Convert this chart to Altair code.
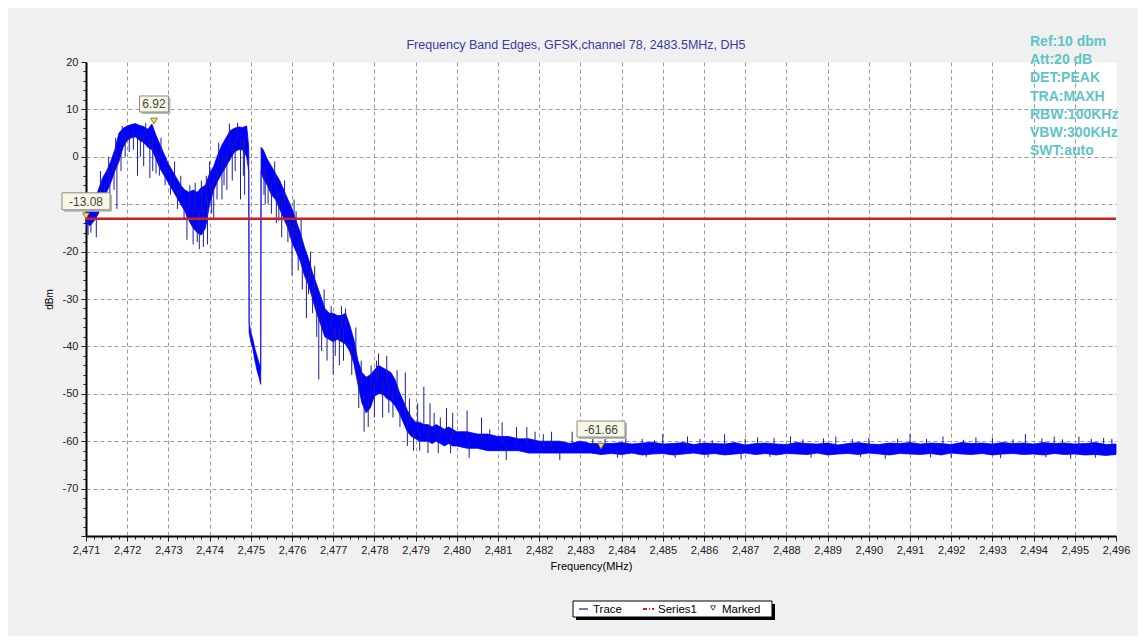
import altair as alt
import pandas as pd
import numpy as np

TITLE = "Frequency Band Edges, GFSK,channel 78, 2483.5MHz, DH5"
INFO = ["Ref:10 dbm", "Att:20 dB", "DET:PEAK", "TRA:MAXH", "RBW:100KHz", "VBW:300KHz", "SWT:auto"]
X_TITLE = "Frequency(MHz)"
Y_TITLE = "dBm"
LEGEND = ["Trace", "Series1", "Marked"]

# trace envelope (upper / lower edge of the noisy trace)
FREQ = [2471.0, 2471.1, 2471.2, 2471.3, 2471.4, 2471.5, 2471.6, 2471.7, 2471.8, 2471.9,
        2472.0, 2472.1, 2472.2, 2472.3, 2472.4, 2472.5, 2472.6, 2472.7, 2472.8, 2472.9,
        2473.0, 2473.1, 2473.2, 2473.3, 2473.4, 2473.5, 2473.6, 2473.7, 2473.8, 2473.9,
        2474.0, 2474.1, 2474.2, 2474.3, 2474.4, 2474.5, 2474.6, 2474.7, 2474.8, 2474.9,
        2474.95, 2474.96, 2475.0, 2475.05, 2475.1, 2475.15, 2475.2, 2475.24, 2475.25, 2475.3,
        2475.4, 2475.5, 2475.6, 2475.7, 2475.8, 2475.9, 2476.0, 2476.1, 2476.2, 2476.3,
        2476.4, 2476.5, 2476.6, 2476.7, 2476.8, 2476.9, 2477.0, 2477.1, 2477.2, 2477.3,
        2477.4, 2477.5, 2477.6, 2477.7, 2477.8, 2477.9, 2478.0, 2478.1, 2478.2, 2478.3,
        2478.4, 2478.5, 2478.6, 2478.7, 2478.8, 2478.9, 2479.0, 2479.1, 2479.2, 2479.3,
        2479.4, 2479.5, 2479.6, 2479.7, 2479.8, 2479.9, 2480.0, 2480.25, 2480.5, 2480.75,
        2481.0, 2481.25, 2481.5, 2481.75, 2482.0, 2482.25, 2482.5, 2482.75, 2483.0, 2483.25,
        2483.5, 2483.75, 2484.0, 2484.25, 2484.5, 2484.75, 2485.0, 2485.25, 2485.5, 2485.75,
        2486.0, 2486.25, 2486.5, 2486.75, 2487.0, 2487.25, 2487.5, 2487.75, 2488.0, 2488.25,
        2488.5, 2488.75, 2489.0, 2489.25, 2489.5, 2489.75, 2490.0, 2490.25, 2490.5, 2490.75,
        2491.0, 2491.25, 2491.5, 2491.75, 2492.0, 2492.25, 2492.5, 2492.75, 2493.0, 2493.25,
        2493.5, 2493.75, 2494.0, 2494.25, 2494.5, 2494.75, 2495.0, 2495.25, 2495.5, 2495.75,
        2496.0]
HI = [-10.0, -10.5, -9.5, -7.0, -4.5, -3.0, -1.0, 1.5, 5.0, 6.0,
      6.5, 6.8, 7.0, 6.6, 6.4, 5.8, 6.9, 4.5, 2.5, 0.5,
      -1.5, -3.0, -4.5, -6.0, -7.0, -7.5, -7.0, -7.5, -6.5, -6.0,
      -3.5, -2.0, 0.5, 2.5, 4.0, 5.5, 6.0, 6.3, 6.2, 6.5,
      2.0, -35.0, -37.0, -38.5, -40.5, -42.0, -43.5, -45.0, 2.0, 1.5,
      -0.5, -2.0, -3.5, -5.0, -7.0, -9.0, -11.0, -13.5, -16.0, -19.0,
      -21.5, -24.5, -27.0, -29.5, -32.0, -33.0, -33.0, -33.5, -33.5, -33.0,
      -35.5, -38.5, -43.0, -45.5, -46.5, -46.0, -45.0, -44.0, -44.5, -45.0,
      -45.5, -47.0, -49.5, -51.5, -53.5, -55.0, -56.0, -56.0, -56.5, -56.5,
      -57.0, -56.5, -57.0, -57.5, -57.0, -57.5, -58.0, -58.0, -58.5, -58.5,
      -59.0, -59.0, -59.5, -59.5, -60.0, -60.0, -60.0, -60.5, -60.0, -60.5,
      -60.5, -60.5, -60.3, -60.6, -60.4, -60.2, -60.6, -60.5, -60.3, -60.7,
      -60.4, -60.5, -60.6, -60.3, -60.8, -60.5, -60.4, -60.6, -60.7, -60.3,
      -60.5, -60.6, -60.4, -60.8, -60.5, -60.3, -60.6, -60.7, -60.4, -60.5,
      -60.3, -60.6, -60.4, -60.5, -60.7, -60.3, -60.5, -60.4, -60.6, -60.3,
      -60.5, -60.4, -60.6, -60.3, -60.5, -60.4, -60.6, -60.5, -60.3, -60.7,
      -60.6]
LO = [-14.0, -14.5, -13.5, -12.0, -9.0, -7.5, -5.5, -3.0, -1.0, 2.0,
      3.5, 4.0, 4.2, 3.5, 3.0, 2.0, 1.5, -0.5, -2.5, -4.0,
      -5.5, -7.0, -8.5, -10.0, -11.5, -13.5, -15.0, -16.0, -16.5, -15.0,
      -10.0, -7.0, -5.0, -3.5, -2.0, -0.5, 1.0, 1.5, 1.5, 0.0,
      -3.0, -37.0, -39.0, -40.5, -43.0, -45.0, -46.5, -48.0, -3.0, -4.5,
      -6.0, -8.0, -9.0, -11.0, -13.0, -15.0, -18.0, -20.0, -22.0, -25.0,
      -27.0, -30.0, -33.0, -35.5, -38.0, -38.5, -39.0, -38.5, -39.0, -39.5,
      -41.0, -43.5, -48.0, -52.0, -54.0, -53.0, -50.5, -50.0, -50.0, -51.0,
      -51.5, -52.5, -54.0, -56.0, -58.0, -59.0, -59.5, -60.0, -60.0, -60.0,
      -60.5, -60.0, -60.5, -61.0, -60.5, -61.0, -61.0, -61.5, -61.5, -62.0,
      -62.0, -62.0, -62.0, -62.5, -62.5, -62.5, -62.5, -62.5, -62.5, -62.5,
      -62.8, -62.6, -62.8, -62.5, -62.9, -62.7, -62.6, -62.9, -62.7, -62.5,
      -62.8, -62.6, -62.9, -62.7, -62.5, -62.8, -62.6, -62.9, -62.6, -62.7,
      -62.8, -62.5, -62.9, -62.7, -62.6, -62.8, -62.5, -62.7, -62.9, -62.6,
      -62.7, -62.8, -62.6, -62.9, -62.5, -62.7, -62.8, -62.6, -62.9, -62.7,
      -62.6, -62.8, -62.7, -62.9, -62.6, -62.8, -62.7, -62.9, -62.8, -63.0,
      -62.8]

# isolated spikes of the trace (frequency, tip value)
SPIKE_F = [2471.02, 2471.05, 2471.12, 2471.18, 2471.25, 2471.35, 2471.45, 2471.55, 2471.58, 2471.65,
           2471.68, 2471.72, 2471.75, 2471.85, 2471.88, 2471.95, 2472.05, 2472.15, 2472.25, 2472.32,
           2472.4, 2472.45, 2472.55, 2472.62, 2472.7, 2472.78, 2472.82, 2472.92, 2473.05, 2473.15,
           2473.22, 2473.3, 2473.38, 2473.45, 2473.52, 2473.6, 2473.65, 2473.7, 2473.75, 2473.8,
           2473.85, 2473.92, 2473.95, 2474.0, 2474.05, 2474.1, 2474.18, 2474.22, 2474.3, 2474.35,
           2474.42, 2474.48, 2474.55, 2474.62, 2474.68, 2474.75, 2474.82, 2474.85, 2475.32, 2475.35,
           2475.42, 2475.5, 2475.58, 2475.62, 2475.68, 2475.75, 2475.82, 2475.9, 2475.95, 2476.0,
           2476.05, 2476.1, 2476.15, 2476.22, 2476.25, 2476.35, 2476.4, 2476.45, 2476.5, 2476.55,
           2476.6, 2476.65, 2476.72, 2476.78, 2476.85, 2476.95, 2477.0, 2477.05, 2477.15, 2477.2,
           2477.25, 2477.3, 2477.45, 2477.55, 2477.62, 2477.68, 2477.75, 2477.85, 2477.92, 2478.0,
           2478.05, 2478.1, 2478.2, 2478.3, 2478.35, 2478.45, 2478.55, 2478.62, 2478.75, 2478.8,
           2478.85, 2478.95, 2479.05, 2479.1, 2479.2, 2479.3, 2479.35, 2479.45, 2479.55, 2479.6,
           2479.75, 2479.85, 2479.9, 2480.25, 2480.3, 2480.6, 2480.8, 2481.1, 2481.2, 2481.45,
           2481.7, 2481.9, 2482.1, 2482.3, 2482.5, 2482.8, 2483.3, 2483.6, 2483.9, 2484.1,
           2484.5, 2484.6, 2484.8, 2485.0, 2485.3, 2485.6, 2485.9, 2486.1, 2486.2, 2486.5,
           2486.9, 2487.0, 2487.3, 2487.6, 2487.7, 2488.1, 2488.4, 2488.6, 2488.9, 2489.2,
           2489.6, 2489.8, 2490.0, 2490.4, 2490.7, 2491.0, 2491.4, 2491.5, 2491.8, 2492.0,
           2492.3, 2492.6, 2493.0, 2493.2, 2493.5, 2493.8, 2494.2, 2494.3, 2494.5, 2494.7,
           2494.9, 2495.1, 2495.4, 2495.5, 2495.7, 2495.9]
SPIKE_V = [-15.0, -16.5, -16.0, -8.0, -17.0, -3.0, -10.0, 0.0, -8.0, -1.0,
           -7.0, 4.0, -11.0, -3.0, 6.5, 0.0, 1.0, 1.5, -4.0, 0.0,
           -2.0, 7.2, -4.5, -3.0, -3.5, -4.0, 4.0, -6.0, -8.0, -1.0,
           -11.0, -4.0, -13.0, -17.5, -6.0, -18.5, -5.5, -18.0, -19.5, -5.0,
           -19.0, -4.0, -18.5, -1.0, -12.0, -13.0, -9.0, 3.0, -9.0, -6.0,
           -7.0, 7.0, -5.0, -3.0, 7.2, -9.0, -4.0, -8.0, -8.0, -10.0,
           -10.0, -12.0, -1.0, -14.0, -13.5, -17.0, -5.0, -18.0, -17.0, -25.0,
           -9.0, -11.5, -24.0, -13.0, -28.0, -34.0, -29.0, -20.0, -33.0, -23.0,
           -38.0, -47.0, -41.0, -28.0, -43.0, -31.5, -46.0, -42.0, -44.0, -31.5,
           -43.0, -32.0, -46.0, -36.0, -53.0, -43.0, -58.0, -57.0, -44.0, -55.0,
           -43.0, -41.5, -55.0, -42.0, -54.0, -55.0, -45.0, -57.0, -45.5, -61.0,
           -51.0, -62.0, -52.0, -62.0, -48.5, -62.5, -52.0, -54.0, -62.5, -55.0,
           -53.0, -62.5, -54.0, -53.5, -63.5, -55.0, -57.5, -56.0, -64.0, -57.0,
           -57.0, -58.0, -58.5, -58.0, -64.0, -58.0, -58.5, -59.5, -63.5, -59.0,
           -59.5, -63.3, -59.8, -58.5, -63.5, -59.0, -59.5, -63.4, -59.8, -58.5,
           -63.8, -59.5, -59.2, -63.3, -59.3, -59.0, -59.6, -63.5, -59.4, -59.0,
           -59.5, -63.3, -59.3, -63.7, -59.5, -58.5, -59.5, -63.4, -59.0, -63.5,
           -59.7, -59.2, -59.3, -63.6, -59.6, -58.5, -59.4, -63.4, -59.0, -59.6,
           -63.7, -59.0, -59.5, -63.5, -59.3, -59.5]

LIMIT = [-13.08]
MARK_F = [2471.0, 2472.65, 2483.5]
MARK_V = [-13.08, 6.92, -61.66]
MARK_LABEL = ["-13.08", "6.92", "-61.66"]

X_MIN, X_MAX = 2471, 2496
Y_MIN, Y_MAX = -80, 20
X_TICKS = [round(X_MIN + 0.2 * k, 1) for k in range(126)]
Y_TICKS = list(range(Y_MIN, Y_MAX + 1, 2))
Y_HIDDEN_LABEL = -10   # covered by the -13.08 marker box in the reference

FONT = "Liberation Sans"

trace = pd.DataFrame({"f": FREQ, "hi": HI, "lo": LO})
mid = (np.array(HI) + np.array(LO)) / 2
spikes = pd.DataFrame({"f": SPIKE_F, "tip": SPIKE_V,
                       "base": np.interp(SPIKE_F, FREQ, mid)})
marks = pd.DataFrame({"f": MARK_F, "v": MARK_V, "label": MARK_LABEL})

x_major = "abs(datum.value - round(datum.value)) < 0.01"
x_axis = alt.Axis(
    values=X_TICKS, title=X_TITLE, labelOverlap=False, labelFlush=False,
    labelExpr=f"{x_major} ? format(datum.value, ',d') : ''",
    tickSize={"condition": {"test": x_major, "value": 5}, "value": 3},
    gridOpacity={"condition": {"test": f"{x_major} && datum.value > {X_MIN} && datum.value < {X_MAX}", "value": 1}, "value": 0},
    labelPadding=3, titlePadding=5, titleX=505,
)
y_major = "datum.value % 10 == 0"
y_axis = alt.Axis(
    values=Y_TICKS, title=Y_TITLE, labelOverlap=False, labelFlush=False,
    labelExpr=f"({y_major} && datum.value > {Y_MIN} && datum.value != {Y_HIDDEN_LABEL}) ? '' + datum.value : ''",
    tickSize={"condition": {"test": y_major, "value": 5}, "value": 3},
    gridOpacity={"condition": {"test": f"{y_major} && datum.value > {Y_MIN} && datum.value < {Y_MAX}", "value": 1}, "value": 0},
    labelPadding=3, titlePadding=8, titleFontSize=10,
)
xs = alt.Scale(domain=[X_MIN, X_MAX], nice=False, zero=False)
ys = alt.Scale(domain=[Y_MIN, Y_MAX], nice=False, zero=False)


def X(field="f"):
    return alt.X(f"{field}:Q", scale=xs, axis=x_axis)


def Y(field):
    return alt.Y(f"{field}:Q", scale=ys, axis=y_axis)


band = alt.Chart(trace).mark_area(color="#0000ff", stroke="#0000ee", strokeWidth=0.8,
                                  interpolate="linear").encode(
    x=X(), y=Y("lo"), y2="hi")
spike_rules = alt.Chart(spikes).mark_rule(color="#1c1ca8", strokeWidth=1).encode(
    x=X(), y=Y("tip"), y2="base")
limit = alt.Chart(pd.DataFrame({"v": LIMIT})).mark_rule(color="#cc1f1f", strokeWidth=2.5).encode(
    y=Y("v"))

layers = [band, spike_rules, limit]

# marker boxes and triangles
box_pos = {"-13.08": (-26, -9), "6.92": (-28, -12), "-61.66": (-28, -12)}
for i, lab in enumerate(MARK_LABEL):
    d = marks.iloc[[i]]
    w = 9.5 * len(lab) - 9
    top, bot = box_pos[lab]
    base = alt.Chart(d)
    shadow = base.mark_rect(fill="#b8b8b8", xOffset=-w / 2 + 2, x2Offset=w / 2 + 2,
                            yOffset=top + 2, y2Offset=bot + 2).encode(
        x=X(), x2="f", y=Y("v"), y2="v")
    box = base.mark_rect(fill="#f7f7e4", stroke="#8a8a8a", strokeWidth=1,
                         xOffset=-w / 2, x2Offset=w / 2, yOffset=top, y2Offset=bot).encode(
        x=X(), x2="f", y=Y("v"), y2="v")
    txt = base.mark_text(font=FONT, fontSize=12, color="#444444", align="center",
                         baseline="middle", yOffset=(top + bot) / 2 + 0.5).encode(
        x=X(), y=Y("v"), text="label:N")
    tri = base.mark_point(shape="triangle-down", filled=True, fill="#ece070",
                          stroke="#7a6a10", strokeWidth=0.8, size=45, opacity=1,
                          yOffset=-3).encode(x=X(), y=Y("v"))
    layers += [shadow, box, txt, tri]

one = pd.DataFrame({"a": [0]})
title = alt.Chart(pd.DataFrame({"t": [TITLE]})).mark_text(
    font=FONT, fontSize=12.5, color="#3a3aa2", align="center", baseline="middle").encode(
    x=alt.value(490), y=alt.value(-17), text="t:N")
info = alt.Chart(pd.DataFrame({"t": ["\n".join(INFO)]})).mark_text(
    font=FONT, fontSize=14, fontWeight="bold", color="#5ec4c6", align="left",
    baseline="top", lineBreak="\n", lineHeight=18.2).encode(
    x=alt.value(944), y=alt.value(-27), text="t:N")

# legend (drawn below the plot)
leg_shadow = alt.Chart(one).mark_rect(fill="black").encode(
    x=alt.value(490), x2=alt.value(689), y=alt.value(542), y2=alt.value(558))
leg_box = alt.Chart(one).mark_rect(fill="white", stroke="black", strokeWidth=1).encode(
    x=alt.value(487), x2=alt.value(686), y=alt.value(539), y2=alt.value(555))
leg_trace = alt.Chart(one).mark_rule(color="#1a1a80", strokeWidth=1.2).encode(
    x=alt.value(493), x2=alt.value(502), y=alt.value(547))
leg_series = alt.Chart(one).mark_rule(color="#cc1f1f", strokeWidth=2, strokeDash=[4, 2, 1, 2]).encode(
    x=alt.value(557), x2=alt.value(568), y=alt.value(547))
leg_mark = alt.Chart(one).mark_point(shape="triangle-down", filled=False, stroke="black",
                                     strokeWidth=1, size=25).encode(
    x=alt.value(627), y=alt.value(546))
leg_text = alt.Chart(pd.DataFrame({"t": LEGEND, "x": [507, 572, 636]})).mark_text(
    font=FONT, fontSize=11.5, color="black", align="left", baseline="middle").encode(
    x=alt.X("x:Q", scale=None), y=alt.value(547.5), text="t:N")

layers += [title, info, leg_shadow, leg_box, leg_trace, leg_series, leg_mark, leg_text]

chart = alt.layer(*layers).properties(
    width=1030, height=474,
    autosize=alt.AutoSizeParams(type="none"),
    padding={"left": 78, "top": 54, "right": 22, "bottom": 100},
    background="#f0f0f0",
).configure_view(
    fill="white", stroke="transparent"
).configure_axis(
    domainColor="black", domainWidth=2, tickColor="#222222", tickWidth=1,
    labelFont=FONT, labelFontSize=11, labelColor="#222222",
    titleFont=FONT, titleFontSize=11, titleFontWeight="normal", titleColor="black",
    gridColor="#9a9a9a", gridDash=[4, 3], gridWidth=1,
)

chart.save("out.html", embed_options={"renderer": "svg", "actions": False})
